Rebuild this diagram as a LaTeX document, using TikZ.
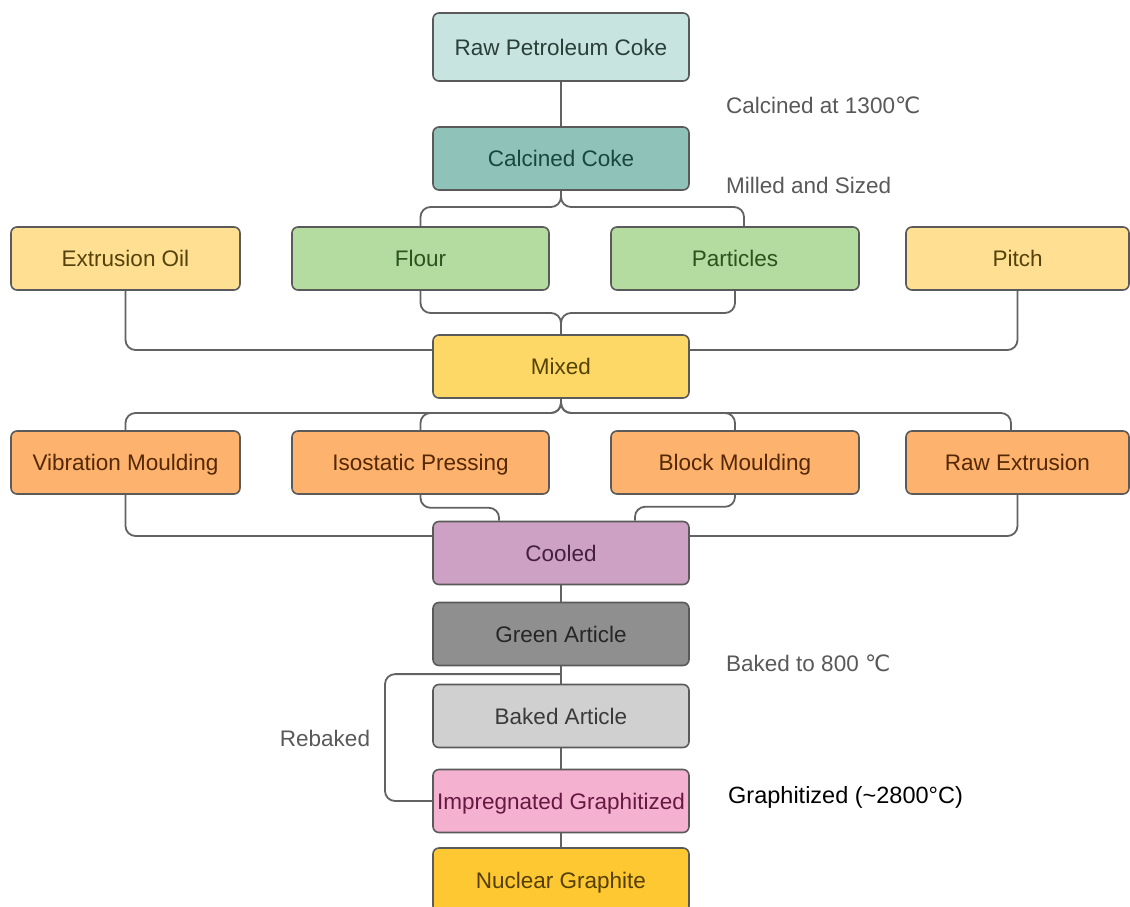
\documentclass[tikz,border=0pt]{standalone}
\usepackage{fontspec}
\setmainfont{Liberation Sans}
\newfontfamily\dejavu{DejaVu Sans}
\usetikzlibrary{calc}
\definecolor{boxline}{HTML}{5A5A5A}
\definecolor{connc}{HTML}{626262}
\definecolor{labc}{HTML}{595959}
\definecolor{rawf}{HTML}{C8E4E0}\definecolor{rawt}{HTML}{2A3E3A}
\definecolor{calf}{HTML}{8FC3B9}\definecolor{calt}{HTML}{1A463E}
\definecolor{oilf}{HTML}{FFE092}\definecolor{oilt}{HTML}{54420A}
\definecolor{grnf}{HTML}{B5DCA0}\definecolor{grnt}{HTML}{2A531D}
\definecolor{mixf}{HTML}{FED866}\definecolor{mixt}{HTML}{544200}
\definecolor{orgf}{HTML}{FDB26D}\definecolor{orgt}{HTML}{542804}
\definecolor{coof}{HTML}{CDA1C3}\definecolor{coot}{HTML}{44203E}
\definecolor{gref}{HTML}{8F8F8F}\definecolor{gret}{HTML}{262626}
\definecolor{bakf}{HTML}{D0D0D0}\definecolor{bakt}{HTML}{3A3A3A}
\definecolor{impf}{HTML}{F5B2D0}\definecolor{impt}{HTML}{661840}
\definecolor{nucf}{HTML}{FDC832}\definecolor{nuct}{HTML}{543E00}
\begin{document}
\begin{tikzpicture}[x=1pt,y=-1pt,
  box/.style={draw=boxline, line width=1.6pt, rounded corners=6pt, minimum height=63pt,
    inner sep=0pt, text height=20.5pt, text depth=4.5pt, font=\fontsize{22.5}{26}\selectfont},
  conn/.style={draw=connc, line width=1.8pt, rounded corners=10pt},
  lab/.style={text=labc, inner sep=0pt, font=\fontsize{22.5}{26}\selectfont}]
\fill[white] (0,0) rectangle (1130,906);
\useasboundingbox (0,0) rectangle (1130,906);
\clip (0,0) rectangle (1130,906);

% nodes
\node[box, fill=rawf, text=rawt, minimum width=256pt, minimum height=68pt] (raw) at (561,47) {Raw Petroleum Coke};
\node[box, fill=calf, text=calt, minimum width=256pt] (calc) at (561,158.5) {Calcined Coke};
\node[box, fill=oilf, text=oilt, minimum width=229pt] (oil) at (125.5,258.5) {Extrusion Oil};
\node[box, fill=grnf, text=grnt, minimum width=257pt] (flour) at (420.5,258.5) {Flour};
\node[box, fill=grnf, text=grnt, minimum width=248pt] (part) at (735,258.5) {Particles};
\node[box, fill=oilf, text=oilt, minimum width=223pt] (pitch) at (1017.5,258.5) {Pitch};
\node[box, fill=mixf, text=mixt, minimum width=256pt] (mixed) at (561,366.5) {Mixed};
\node[box, fill=orgf, text=orgt, minimum width=229pt] (vib) at (125.5,462.5) {Vibration Moulding};
\node[box, fill=orgf, text=orgt, minimum width=257pt] (iso) at (420.5,462.5) {Isostatic Pressing};
\node[box, fill=orgf, text=orgt, minimum width=248pt] (block) at (735,462.5) {Block Moulding};
\node[box, fill=orgf, text=orgt, minimum width=223pt] (rawx) at (1017.5,462.5) {Raw Extrusion};
\node[box, fill=coof, text=coot, minimum width=256pt] (cooled) at (561,553) {Cooled};
\node[box, fill=gref, text=gret, minimum width=256pt] (green) at (561,634) {Green Article};
\node[box, fill=bakf, text=bakt, minimum width=256pt] (baked) at (561,716) {Baked Article};
\node[box, fill=impf, text=impt, minimum width=256pt] (imp) at (561,801) {Impregnated Graphitized};
\node[box, fill=nucf, text=nuct, minimum width=256pt, minimum height=64pt] (nuc) at (561,880) {Nuclear Graphite};

% junctions
\coordinate (j1) at (561,207);
\coordinate (j2) at (561,313);
\coordinate (j3) at (561,413);
\coordinate (rb) at ($(green.south)!0.45!(baked.north)$);

% connectors
\draw[conn] (raw.south) -- (calc.north);
\draw[conn] (flour.north) |- (j1) -- (calc.south);
\draw[conn] ([xshift=9pt]part.north) |- (j1) -- (calc.south);
\draw[conn] (flour.south) |- (j2) -- (mixed.north);
\draw[conn] (part.south) |- (j2) -- (mixed.north);
\draw[conn] (oil.south) |- ([yshift=16.5pt]mixed.west);
\draw[conn] (pitch.south) |- ([yshift=16.5pt]mixed.east);
\draw[conn] (vib.north) |- (j3) -- (mixed.south);
\draw[conn] (iso.north) |- (j3) -- (mixed.south);
\draw[conn] (block.north) |- (j3) -- (mixed.south);
\draw[conn] ([xshift=-6.5pt]rawx.north) |- (j3) -- (mixed.south);
\draw[conn] (vib.south) |- ([yshift=17pt]cooled.west);
\draw[conn] (rawx.south) |- ([yshift=17pt]cooled.east);
\draw[conn] (iso.south) -- ++(0,13) -| ([xshift=-62pt]cooled.north);
\draw[conn] (block.south) -- ++(0,12) -| ([xshift=74pt]cooled.north);
\draw[conn] (cooled.south) -- (green.north);
\draw[conn] (green.south) -- (baked.north);
\draw[conn] (baked.south) -- (imp.north);
\draw[conn] (imp.south) -- (nuc.north);
\draw[conn] (imp.west) -| ([xshift=-176pt]rb) -- (rb);

% labels
\node[lab, anchor=west] (l1) at (726,105) {Calcined at 1300{\dejavu ℃}};
\node[lab, anchor=west] (l2) at (726,185) {Milled and Sized};
\node[lab, anchor=west] (l3) at (726,663) {Baked to 800 {\dejavu ℃}};
\node[lab] (l5) at (325,738) {Rebaked};
\node[anchor=west, inner sep=0pt, text=black, font=\fontsize{23.5}{27}\selectfont] (l4) at (728,797) {Graphitized (\textasciitilde2800°C)};
\end{tikzpicture}
\end{document}
